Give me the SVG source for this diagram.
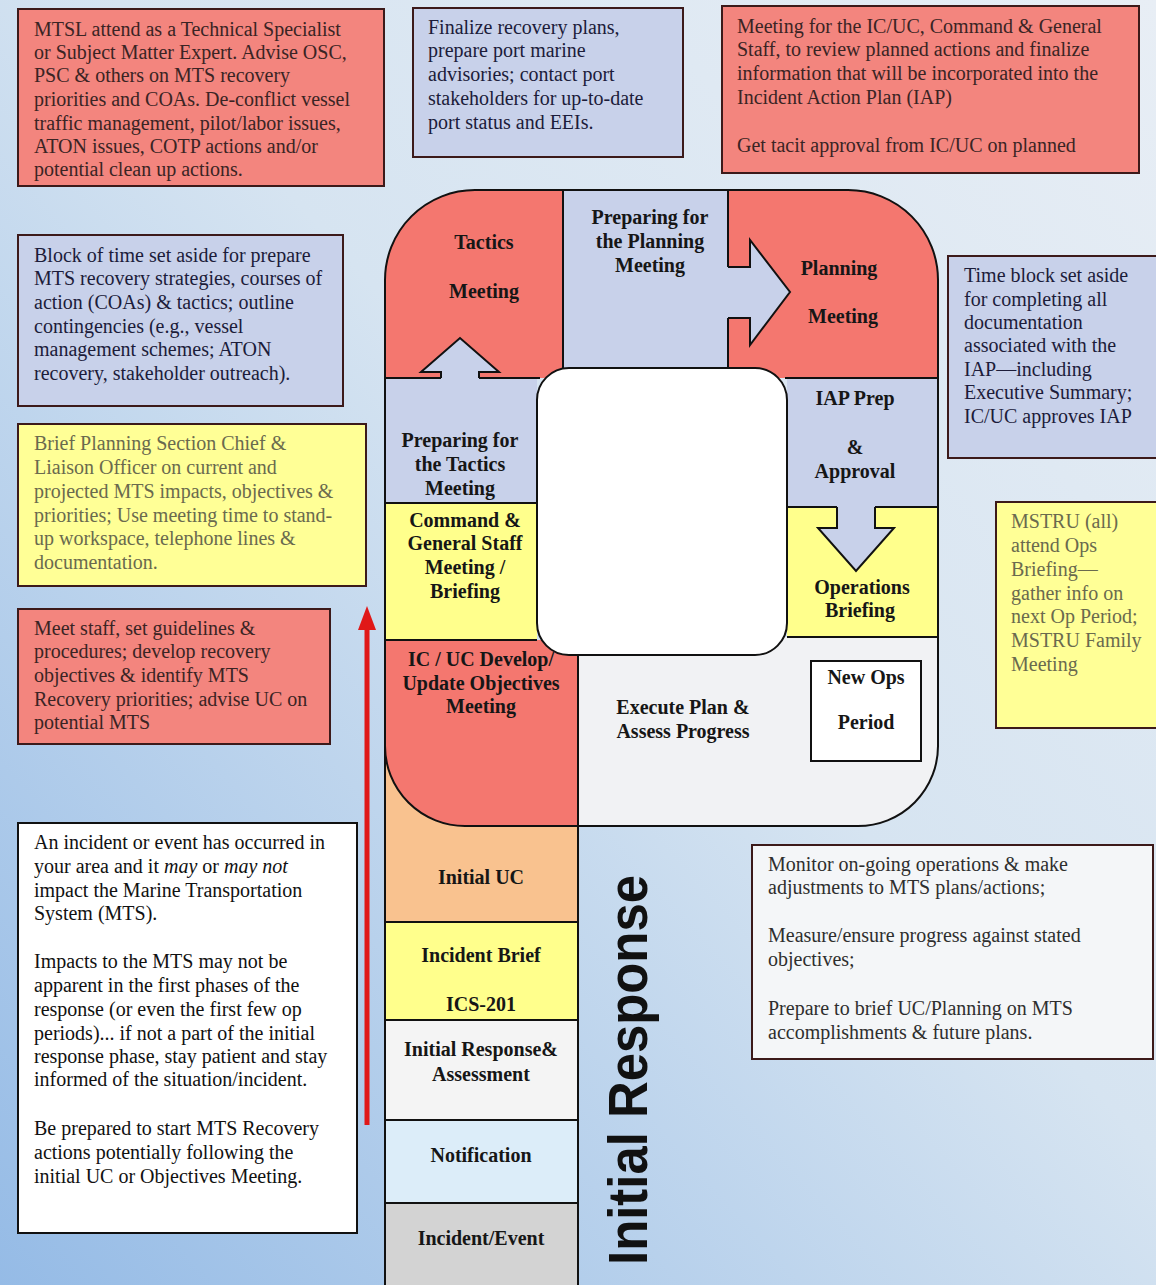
<svg xmlns="http://www.w3.org/2000/svg" width="1156" height="1285" viewBox="0 0 1156 1285">
<defs>
<linearGradient id="bg" x1="1" y1="0" x2="0" y2="1">
<stop offset="0" stop-color="#e8eef5"/>
<stop offset="0.45" stop-color="#d6e4f1"/>
<stop offset="1" stop-color="#95bbe6"/>
</linearGradient>
<clipPath id="loopClip">
<path d="M385,280 A90,90 0 0 1 475,190 L848,190 A90,90 0 0 1 938,280 L938,745 A80,80 0 0 1 858,826 L465,826 A80,80 0 0 1 385,746 Z"/>
</clipPath>
<style>
.box{stroke:#3c1a1a;stroke-width:2}
.red{fill:#f3857e}
.lred{fill:#f4776f}
.blue{fill:#c8d1ea}
.yel{fill:#ffff96}
.t{font-family:"Liberation Serif","Times New Roman",serif;font-size:20px}
.tr{fill:#3a2424}
.tb{fill:#1c1c3a}
.ty{fill:#6a6a4e}
.tk{fill:#111}
.lab{font-family:"Liberation Serif","Times New Roman",serif;font-size:20px;font-weight:bold;fill:#161616;text-anchor:middle}
.ln{stroke:#111;stroke-width:2;fill:none}
.arr{fill:#c8d1ea;stroke:none}
</style>
</defs>
<rect x="0" y="0" width="1156" height="1285" fill="url(#bg)"/>

<g id="note-mtsl">
<rect x="18" y="9" width="366" height="177" class="box red"/>
<text class="t tr"><tspan x="34" y="36">MTSL attend as a Technical Specialist</tspan><tspan x="34" y="59">or Subject Matter Expert. Advise OSC,</tspan><tspan x="34" y="82">PSC &amp; others on MTS recovery</tspan><tspan x="34" y="106">priorities and COAs. De-conflict vessel</tspan><tspan x="34" y="130">traffic management, pilot/labor issues,</tspan><tspan x="34" y="153">ATON issues, COTP actions and/or</tspan><tspan x="34" y="176">potential clean up actions.</tspan></text>
</g>

<g id="note-finalize">
<rect x="413" y="8" width="270" height="149" class="box blue"/>
<text class="t tb"><tspan x="428" y="34">Finalize recovery plans,</tspan><tspan x="428" y="57">prepare port marine</tspan><tspan x="428" y="81">advisories; contact port</tspan><tspan x="428" y="105">stakeholders for up-to-date</tspan><tspan x="428" y="129">port status and EEIs.</tspan></text>
</g>

<g id="note-meeting">
<rect x="722" y="6" width="417" height="167" class="box red"/>
<text class="t tr"><tspan x="737" y="33">Meeting for the IC/UC, Command &amp; General</tspan><tspan x="737" y="56">Staff, to review planned actions and finalize</tspan><tspan x="737" y="80">information that will be incorporated into the</tspan><tspan x="737" y="104">Incident Action Plan (IAP)</tspan><tspan x="737" y="152">Get tacit approval from IC/UC on planned</tspan></text>
</g>

<g id="note-block">
<rect x="18" y="235" width="325" height="171" class="box blue"/>
<text class="t tb"><tspan x="34" y="262">Block of time set aside for prepare</tspan><tspan x="34" y="285">MTS recovery strategies, courses of</tspan><tspan x="34" y="309">action (COAs) &amp; tactics; outline</tspan><tspan x="34" y="333">contingencies (e.g., vessel</tspan><tspan x="34" y="356">management schemes; ATON</tspan><tspan x="34" y="380">recovery, stakeholder outreach).</tspan></text>
</g>

<g id="note-brief">
<rect x="18" y="424" width="348" height="162" class="box yel"/>
<text class="t ty"><tspan x="34" y="450">Brief Planning Section Chief &amp;</tspan><tspan x="34" y="474">Liaison Officer on current and</tspan><tspan x="34" y="498">projected MTS impacts, objectives &amp;</tspan><tspan x="34" y="522">priorities; Use meeting time to stand-</tspan><tspan x="34" y="545">up workspace, telephone lines &amp;</tspan><tspan x="34" y="569">documentation.</tspan></text>
</g>

<g id="note-meet-staff">
<rect x="18" y="609" width="312" height="135" class="box red"/>
<text class="t tr"><tspan x="34" y="635">Meet staff, set guidelines &amp;</tspan><tspan x="34" y="658">procedures; develop recovery</tspan><tspan x="34" y="682">objectives &amp; identify MTS</tspan><tspan x="34" y="706">Recovery priorities; advise UC on</tspan><tspan x="34" y="729">potential MTS</tspan></text>
</g>

<g id="note-incident">
<rect x="18" y="823" width="339" height="410" fill="#ffffff" stroke="#111" stroke-width="2"/>
<text class="t tk"><tspan x="34" y="849">An incident or event has occurred in</tspan><tspan x="34" y="873">your area and it <tspan font-style="italic">may</tspan> or <tspan font-style="italic">may not</tspan></tspan><tspan x="34" y="897">impact the Marine Transportation</tspan><tspan x="34" y="920">System (MTS).</tspan><tspan x="34" y="968">Impacts to the MTS may not be</tspan><tspan x="34" y="992">apparent in the first phases of the</tspan><tspan x="34" y="1016">response (or even the first few op</tspan><tspan x="34" y="1040">periods)... if not a part of the initial</tspan><tspan x="34" y="1063">response phase, stay patient and stay</tspan><tspan x="34" y="1086">informed of the situation/incident.</tspan><tspan x="34" y="1135">Be prepared to start MTS Recovery</tspan><tspan x="34" y="1159">actions potentially following the</tspan><tspan x="34" y="1183">initial UC or Objectives Meeting.</tspan></text>
</g>

<g id="note-timeblock">
<rect x="948" y="256" width="214" height="202" class="box blue"/>
<text class="t tb"><tspan x="964" y="282">Time block set aside</tspan><tspan x="964" y="306">for completing all</tspan><tspan x="964" y="329">documentation</tspan><tspan x="964" y="352">associated with the</tspan><tspan x="964" y="376">IAP—including</tspan><tspan x="964" y="399">Executive Summary;</tspan><tspan x="964" y="423">IC/UC approves IAP</tspan></text>
</g>

<g id="note-mstru">
<rect x="996" y="502" width="166" height="226" class="box yel"/>
<text class="t ty"><tspan x="1011" y="528">MSTRU (all)</tspan><tspan x="1011" y="552">attend Ops</tspan><tspan x="1011" y="576">Briefing—</tspan><tspan x="1011" y="600">gather info on</tspan><tspan x="1011" y="623">next Op Period;</tspan><tspan x="1011" y="647">MSTRU Family</tspan><tspan x="1011" y="671">Meeting</tspan></text>
</g>

<g id="note-monitor">
<rect x="752" y="845" width="401" height="214" fill="#f4f6f8" stroke="#3c1a1a" stroke-width="2"/>
<text class="t" fill="#2e2e2e"><tspan x="768" y="871">Monitor on-going operations &amp; make</tspan><tspan x="768" y="894">adjustments to MTS plans/actions;</tspan><tspan x="768" y="942">Measure/ensure progress against stated</tspan><tspan x="768" y="966">objectives;</tspan><tspan x="768" y="1015">Prepare to brief UC/Planning on MTS</tspan><tspan x="768" y="1039">accomplishments &amp; future plans.</tspan></text>
</g>

<!-- stem -->
<g id="initial-uc">
<rect x="385" y="740" width="193" height="182" fill="#f9c28f"/>
<text class="lab" x="481" y="884">Initial UC</text>
</g>
<g id="incident-brief">
<rect x="385" y="922" width="193" height="98" fill="#ffff8c"/>
<text class="lab"><tspan x="481" y="962">Incident Brief</tspan><tspan x="481" y="1011">ICS-201</tspan></text>
</g>
<g id="initial-response-assessment">
<rect x="385" y="1020" width="193" height="100" fill="#f4f4f4"/>
<text class="lab"><tspan x="481" y="1056">Initial Response&amp;</tspan><tspan x="481" y="1081">Assessment</tspan></text>
</g>
<g id="notification">
<rect x="385" y="1120" width="193" height="83" fill="#dcedf9"/>
<text class="lab" x="481" y="1162">Notification</text>
</g>
<g id="incident-event">
<rect x="385" y="1203" width="193" height="84" fill="#d3d3d3"/>
<text class="lab" x="481" y="1245">Incident/Event</text>
</g>

<!-- loop region fills -->
<g clip-path="url(#loopClip)">
<rect x="385" y="190" width="178" height="188" class="lred"/>
<rect x="563" y="190" width="165" height="180" class="blue"/>
<rect x="728" y="190" width="210" height="188" class="lred"/>
<rect x="385" y="378" width="152" height="125" class="blue"/>
<rect x="787" y="378" width="151" height="129" class="blue"/>
<rect x="385" y="503" width="152" height="137" fill="#ffff8c"/>
<rect x="787" y="507" width="151" height="130" fill="#ffff8c"/>
<rect x="385" y="640" width="193" height="186" class="lred"/>
<rect x="578" y="637" width="360" height="189" fill="#f1f2f4"/>
</g>

<g id="connectors">
<polygon class="arr" points="441,382 441,372 421,372 460,338 499,372 479,372 479,382"/>
<polyline class="ln" points="441,378 441,372 421,372 460,338 499,372 479,372 479,378"/>
<polygon class="arr" points="724,267 750,267 750,240 790,292 750,345 750,318 724,318"/>
<polyline class="ln" points="728,267 750,267 750,240 790,292 750,345 750,318 728,318"/>
<polygon class="arr" points="837,503 837,528 818,528 856,571 894,528 875,528 875,503"/>
<polyline class="ln" points="837,507 837,528 818,528 856,571 894,528 875,528 875,507"/>
<line x1="367" y1="1125" x2="367" y2="626" stroke="#e01818" stroke-width="5"/>
<polygon points="358,630 367,606 376,630" fill="#e01818"/>
</g>

<!-- divider lines -->
<g id="dividers" class="ln">
<line x1="563" y1="190" x2="563" y2="372"/>
<line x1="728" y1="190" x2="728" y2="267"/>
<line x1="728" y1="318" x2="728" y2="372"/>
<line x1="385" y1="378" x2="441" y2="378"/>
<line x1="479" y1="378" x2="540" y2="378"/>
<line x1="785" y1="378" x2="938" y2="378"/>
<line x1="385" y1="503" x2="537" y2="503"/>
<line x1="787" y1="507" x2="837" y2="507"/>
<line x1="875" y1="507" x2="938" y2="507"/>
<line x1="385" y1="640" x2="537" y2="640"/>
<line x1="787" y1="637" x2="938" y2="637"/>
<line x1="578" y1="650" x2="578" y2="1285"/>
<line x1="385" y1="740" x2="385" y2="1285"/>
<line x1="385" y1="922" x2="578" y2="922"/>
<line x1="385" y1="1020" x2="578" y2="1020"/>
<line x1="385" y1="1120" x2="578" y2="1120"/>
<line x1="385" y1="1203" x2="578" y2="1203"/>
<path d="M385,280 A90,90 0 0 1 475,190 L848,190 A90,90 0 0 1 938,280 L938,745 A80,80 0 0 1 858,826 L465,826 A80,80 0 0 1 385,746 Z"/>
</g>

<g id="center">
<rect x="537" y="368" width="250" height="287" rx="32" ry="32" fill="#ffffff" stroke="#111" stroke-width="2"/>
</g>

<g id="tactics-meeting"><text class="lab"><tspan x="484" y="249">Tactics</tspan><tspan x="484" y="298">Meeting</tspan></text></g>
<g id="prep-planning"><text class="lab"><tspan x="650" y="224">Preparing for</tspan><tspan x="650" y="248">the Planning</tspan><tspan x="650" y="272">Meeting</tspan></text></g>
<g id="planning-meeting"><text class="lab"><tspan x="839" y="275">Planning</tspan><tspan x="843" y="323">Meeting</tspan></text></g>
<g id="prep-tactics"><text class="lab"><tspan x="460" y="447">Preparing for</tspan><tspan x="460" y="471">the Tactics</tspan><tspan x="460" y="495">Meeting</tspan></text></g>
<g id="iap-prep"><text class="lab"><tspan x="855" y="405">IAP Prep</tspan><tspan x="855" y="454">&amp;</tspan><tspan x="855" y="478">Approval</tspan></text></g>
<g id="command-general"><text class="lab"><tspan x="465" y="527">Command &amp;</tspan><tspan x="465" y="550">General Staff</tspan><tspan x="465" y="574">Meeting /</tspan><tspan x="465" y="598">Briefing</tspan></text></g>
<g id="ops-briefing"><text class="lab"><tspan x="862" y="594">Operations</tspan><tspan x="860" y="617">Briefing</tspan></text></g>
<g id="icuc-objectives"><text class="lab"><tspan x="481" y="666">IC / UC Develop/</tspan><tspan x="481" y="690">Update Objectives</tspan><tspan x="481" y="713">Meeting</tspan></text></g>
<g id="execute-plan"><text class="lab"><tspan x="683" y="714">Execute Plan &amp;</tspan><tspan x="683" y="738">Assess Progress</tspan></text></g>
<g id="new-ops-period">
<rect x="811" y="661" width="110" height="100" fill="#ffffff" stroke="#111" stroke-width="2"/>
<text class="lab" font-size="18"><tspan x="866" y="684">New Ops</tspan><tspan x="866" y="729">Period</tspan></text>
</g>

<g id="initial-response-label">
<text x="0" y="0" transform="translate(647,1265) rotate(-90)" font-family="'Liberation Sans',Arial,sans-serif" font-weight="bold" font-size="56" fill="#111" textLength="390" lengthAdjust="spacingAndGlyphs">Initial Response</text>
</g>
</svg>
